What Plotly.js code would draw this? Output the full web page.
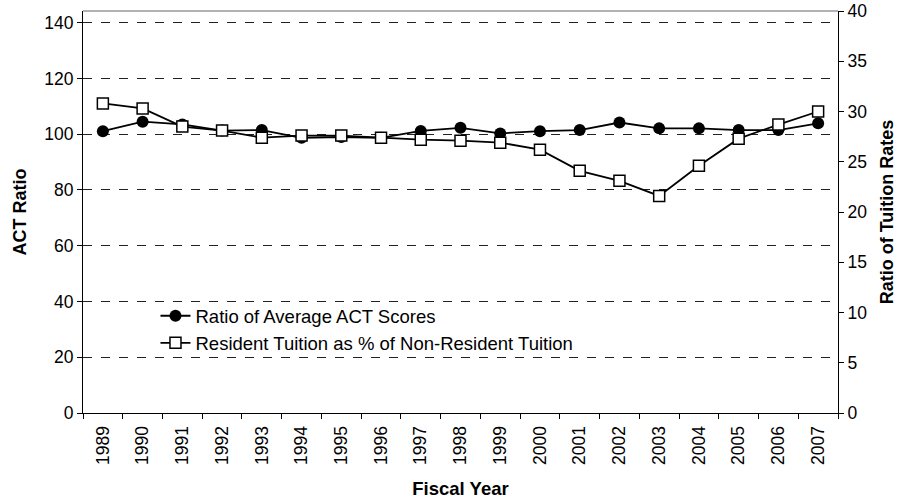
<!DOCTYPE html>
<html>
<head>
<meta charset="utf-8">
<script src="https://cdn.plot.ly/plotly-3.0.1.min.js"></script>
<style>html,body{margin:0;padding:0;background:#fff;}#chart{width:907px;height:501px;}</style>
</head>
<body>
<div id="chart"></div>
<script>
const years = ["1989","1990","1991","1992","1993","1994","1995","1996","1997","1998","1999","2000","2001","2002","2003","2004","2005","2006","2007"];
const actRatio = [101.1,104.5,103.5,101.3,101.5,98.7,99.0,98.7,101.2,102.3,100.3,101.1,101.5,104.2,102.1,102.1,101.5,101.5,103.9];
const tuitionPct = [30.8,30.3,28.5,28.1,27.4,27.6,27.6,27.4,27.2,27.1,26.9,26.2,24.1,23.1,21.6,24.6,27.3,28.7,30.0];
const leftTicks = [0,20,40,60,80,100,120,140];
const rightTicks = [0,5,10,15,20,25,30,35,40];

const font = "Arial, 'Liberation Sans', sans-serif";
const traces = [
  {
    x: years, y: actRatio, type: 'scatter', mode: 'lines+markers',
    name: 'Ratio of Average ACT Scores', yaxis: 'y',
    line: {color: '#000', width: 1.8},
    marker: {symbol: 'circle', size: 12, color: '#000'}
  },
  {
    x: years, y: tuitionPct, type: 'scatter', mode: 'lines+markers',
    name: 'Resident Tuition as % of Non-Resident Tuition', yaxis: 'y2',
    line: {color: '#000', width: 1.8},
    marker: {symbol: 'square', size: 11, color: '#fff', line: {color: '#000', width: 1.5}}
  }
];
const layout = {
  width: 907, height: 501,
  margin: {l: 83, r: 69, t: 11, b: 88},
  paper_bgcolor: '#fff', plot_bgcolor: '#fff',
  font: {family: font, size: 17, color: '#000'},
  showlegend: true,
  legend: {x: 0.096, y: 0.288, xanchor: 'left', yanchor: 'top', bgcolor: 'rgba(0,0,0,0)',
           font: {family: font, size: 18.5, color: '#000'}, tracegroupgap: 0},
  xaxis: {
    type: 'category', range: [-0.5, 18.5], tickangle: -90, tickson: 'boundaries',
    ticks: 'outside', ticklen: 5, tickcolor: '#000', showline: true, linecolor: '#000', linewidth: 1,
    showgrid: false, zeroline: false, tickfont: {family: font, size: 17.5}, ticklabelstandoff: 5,
    title: {text: 'Fiscal Year', font: {family: font, size: 18.5, weight: 'bold'}, standoff: 18}
  },
  yaxis: {
    range: [0, 144.2], tickvals: leftTicks, ticks: 'outside', ticklen: 5, tickcolor: '#000',
    showline: true, linecolor: '#000', linewidth: 1,
    showgrid: true, gridcolor: '#222', griddash: 'dash', gridwidth: 1, zeroline: false,
    tickfont: {family: font, size: 17.5},
    title: {text: 'ACT Ratio', font: {family: font, size: 18, weight: 'bold'}, standoff: 12}
  },
  yaxis2: {
    overlaying: 'y', side: 'right', range: [0, 40], tickvals: rightTicks,
    ticks: 'outside', ticklen: 5, tickcolor: '#000', showline: true, linecolor: '#000', linewidth: 1,
    showgrid: false, zeroline: false, tickfont: {family: font, size: 17.5},
    title: {text: 'Ratio of Tuition Rates', font: {family: font, size: 18, weight: 'bold'}, standoff: 14}
  },
  shapes: [{type: 'line', xref: 'paper', yref: 'paper', x0: 0, x1: 1, y0: 1, y1: 1,
            line: {color: '#999', width: 1.5}}]
};
Plotly.newPlot('chart', traces, layout, {displayModeBar: false, staticPlot: true});
</script>
</body>
</html>
